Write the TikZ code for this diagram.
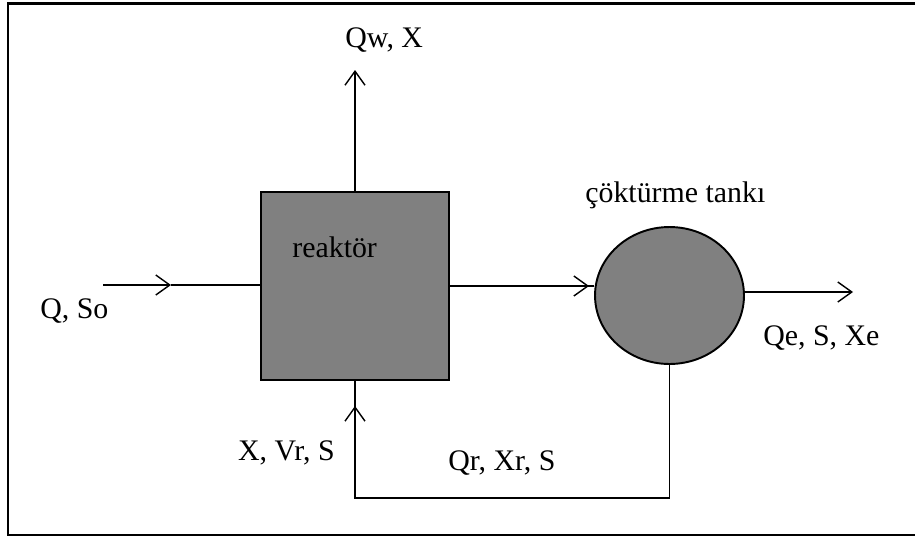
\documentclass[tikz,border=0pt]{standalone}
\usepackage{fontspec}
\setmainfont{Liberation Serif}
\usetikzlibrary{arrows.meta,calc,positioning,shapes.geometric}
\definecolor{unitgray}{RGB}{128,128,128}
\tikzset{
  flow/.style={line width=0.8pt},
  tip/.style={flow,-{Straight Barb[length=2.8mm,width=4mm,line width=0.8pt]}},
  lbl/.style={font=\fontsize{17}{20}\selectfont,inner sep=0pt},
  unit/.style={draw,line width=1.1pt,fill=unitgray,inner sep=0pt},
}

\begin{document}
\begin{tikzpicture}[x=0.02cm,y=-0.02cm]
    \useasboundingbox (0,0) rectangle (915,541);
    \draw[line width=1.3pt] (8,3.5) rectangle (940,535);

    \node[unit,minimum width=3.76cm,minimum height=3.76cm] (reaktor) at (355,286) {};
    \node[unit,ellipse,minimum width=2.98cm,minimum height=2.74cm] (tank) at (669.5,295.5) {};

    \coordinate (in) at (103,285);
    \coordinate (inmid) at (171,285);
    \coordinate (qw) at (355,70);
    \coordinate (out) at (853,292);
    \coordinate (rb) at (669.5,498);

    \draw[tip] (in) -- (inmid);
    \draw[flow] (inmid) -- (reaktor.west |- in);
    \draw[tip] (reaktor.north) -- (qw);
    \draw[flow] (reaktor.east) -- (tank.west |- reaktor.east);
    \draw[tip] (reaktor.east) -- ($(tank.west |- reaktor.east)+(-5,0)$);
    \draw[tip] (tank.east |- out) -- (out);
    \draw[flow] (tank.south) -- (rb) -| (reaktor.south);
    \draw[tip] (reaktor.south |- rb) -- ($(reaktor.south)+(0,25)$);

    \node[lbl,anchor=base west] (lqw) at (345,47) {Qw, X};
    \node[lbl,anchor=base west] (lq) at (40,318) {Q, So};
    \node[lbl,anchor=base west] (lreak) at (292,257) {reaktör};
    \node[lbl,anchor=base west] (ltank) at (585,202) {çöktürme tankı};
    \node[lbl,anchor=base west] (lqe) at (763,345) {Qe, S, Xe};
    \node[lbl,anchor=base east] (lx) at (335,460) {X, Vr, S};
    \node[lbl,anchor=base west] (lqr) at (448,470) {Qr, Xr, S};
\end{tikzpicture}
\end{document}
